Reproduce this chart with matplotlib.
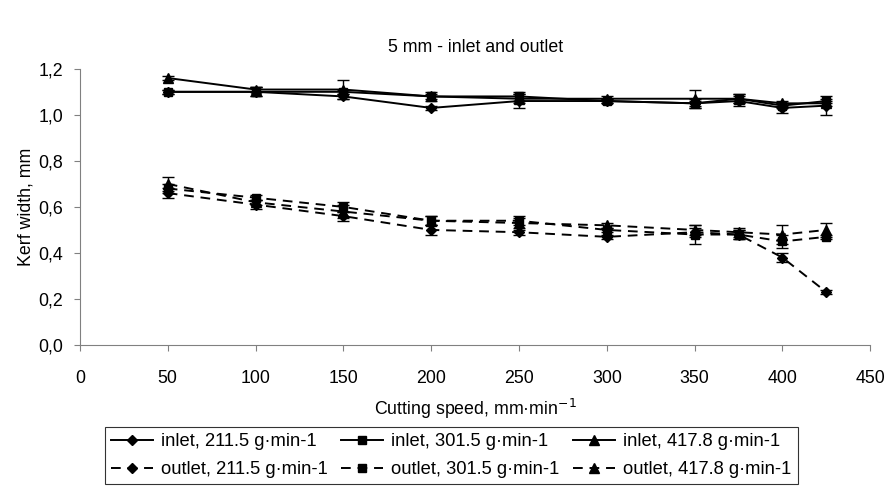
import matplotlib
matplotlib.use("Agg")
import matplotlib.pyplot as plt
from matplotlib.lines import Line2D

plt.rcParams['font.family'] = ['Liberation Sans', 'DejaVu Sans']

speed = [50, 100, 150, 200, 250, 300, 350, 375, 400, 425]

inlet_211 = [1.10, 1.10, 1.08, 1.03, 1.06, 1.06, 1.05, 1.06, 1.03, 1.04]
inlet_301 = [1.10, 1.10, 1.10, 1.08, 1.08, 1.06, 1.05, 1.07, 1.04, 1.06]
inlet_417 = [1.16, 1.11, 1.11, 1.08, 1.07, 1.07, 1.07, 1.07, 1.05, 1.05]
inlet_211_err = [0.01, 0.02, 0.01, 0.01, 0.03, 0.01, 0.02, 0.02, 0.02, 0.04]
inlet_301_err = [0.01, 0.02, 0.01, 0.02, 0.02, 0.01, 0.01, 0.02, 0.01, 0.01]
inlet_417_err = [0.01, 0.01, 0.04, 0.01, 0.02, 0.01, 0.04, 0.02, 0.01, 0.01]

outlet_211 = [0.66, 0.61, 0.56, 0.50, 0.49, 0.47, 0.49, 0.48, 0.38, 0.23]
outlet_301 = [0.68, 0.64, 0.60, 0.54, 0.54, 0.50, 0.48, 0.48, 0.45, 0.47]
outlet_417 = [0.70, 0.62, 0.58, 0.54, 0.53, 0.52, 0.50, 0.49, 0.48, 0.50]
outlet_211_err = [0.02, 0.02, 0.02, 0.02, 0.01, 0.01, 0.02, 0.02, 0.02, 0.01]
outlet_301_err = [0.02, 0.01, 0.02, 0.02, 0.02, 0.01, 0.04, 0.02, 0.03, 0.01]
outlet_417_err = [0.03, 0.01, 0.03, 0.02, 0.02, 0.01, 0.02, 0.02, 0.04, 0.03]

labels_in = ['inlet, 211.5 g\u00b7min-1', 'inlet, 301.5 g\u00b7min-1', 'inlet, 417.8 g\u00b7min-1']
labels_out = ['outlet, 211.5 g\u00b7min-1', 'outlet, 301.5 g\u00b7min-1', 'outlet, 417.8 g\u00b7min-1']
markers = ['D', 's', '^']
msizes = [5, 6.2, 7]
dash = (0, (5, 3.5))

fig = plt.figure(figsize=(8.88, 4.88), dpi=100)
ax = fig.add_axes([0.09, 0.293, 0.89, 0.566])

inl = [(inlet_211, inlet_211_err), (inlet_301, inlet_301_err), (inlet_417, inlet_417_err)]
outl = [(outlet_211, outlet_211_err), (outlet_301, outlet_301_err), (outlet_417, outlet_417_err)]

handles = []
for i in range(3):
    ax.errorbar(speed, inl[i][0], yerr=inl[i][1], color='black', lw=1.4,
                marker=markers[i], ms=msizes[i], capsize=4, elinewidth=1, capthick=1)
    ax.errorbar(speed, outl[i][0], yerr=outl[i][1], color='black', lw=1.4,
                marker=markers[i], ms=msizes[i], capsize=4, elinewidth=1,
                capthick=1, linestyle=dash)
    handles.append(Line2D([], [], color='black', lw=1.4, marker=markers[i],
                          ms=msizes[i], label=labels_in[i]))
    handles.append(Line2D([], [], color='black', lw=1.4, marker=markers[i],
                          ms=msizes[i], linestyle=dash, label=labels_out[i]))

ax.set_xlim(0, 450)
ax.set_ylim(0, 1.2)
ax.set_xticks(range(0, 451, 50))
ax.set_yticks([0, 0.2, 0.4, 0.6, 0.8, 1.0, 1.2])
ax.set_yticklabels(['0,0', '0,2', '0,4', '0,6', '0,8', '1,0', '1,2'])
for s in ['top', 'right']:
    ax.spines[s].set_visible(False)
for s in ['left', 'bottom']:
    ax.spines[s].set_color('#808080')
fs = 12.8
ax.tick_params(axis='both', colors='#808080', labelcolor='black', labelsize=fs,
               direction='out', length=4)
ax.tick_params(axis='x', pad=14)
ax.tick_params(axis='y', pad=8)
ax.set_xlabel('Cutting speed, mm\u00b7min$^{-1}$', fontsize=fs, labelpad=7)
ax.set_ylabel('Kerf width, mm', fontsize=fs, labelpad=3)
ax.set_title('5 mm - inlet and outlet', fontsize=fs, pad=12)

leg = fig.legend(handles=handles, loc='lower center', bbox_to_anchor=(0.508, 0.0),
                 ncol=3, frameon=True, fancybox=False, edgecolor='black',
                 fontsize=13.2, handlelength=2.3, columnspacing=0.7,
                 handletextpad=0.45, borderpad=0.35, labelspacing=0.6,
                 borderaxespad=0.2)
leg.get_frame().set_linewidth(0.8)

fig.savefig('out.png', dpi=100)
